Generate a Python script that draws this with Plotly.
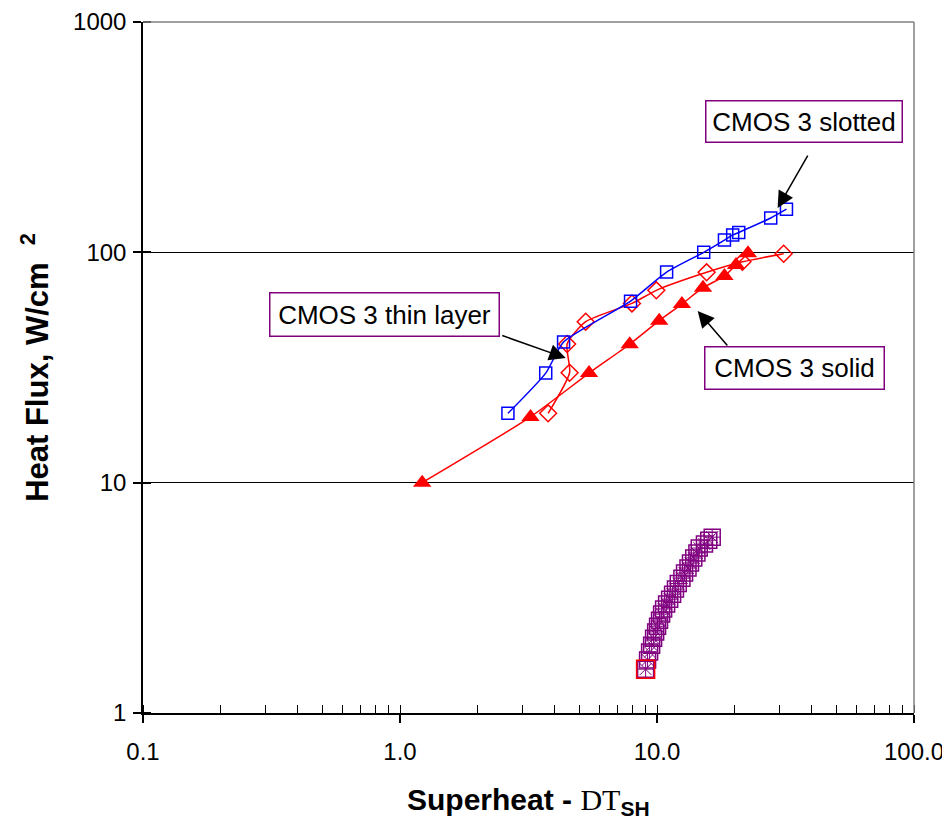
import plotly.graph_objects as go

# ---- data ----
slot_x = [2.63, 3.69, 4.33, 7.89, 10.9, 15.2, 18.3, 19.7, 20.8, 27.7, 31.9]
slot_y = [20.0, 29.9, 40.8, 61.4, 82.1, 100, 113, 119, 122, 141, 154]

thin_x = [3.77, 4.57, 4.47, 5.28, 7.99, 9.94, 15.6, 21.5, 31.1]
thin_y = [20.0, 30.0, 40.0, 50.0, 60.0, 68.4, 81.9, 91.0, 98.6]

solid_x = [1.22, 3.22, 5.44, 7.83, 10.2, 12.5, 15.1, 18.3, 20.3, 22.6]
solid_y = [10.0, 19.3, 29.9, 39.9, 50.5, 59.6, 70.2, 78.9, 88.1, 99.0]

plain_x = [9.03, 9.19, 9.36, 9.53, 9.70, 9.88, 10.05, 10.23, 10.42, 10.61, 10.90, 11.2, 11.5,
           11.8, 12.1, 12.5, 12.8, 13.2, 13.5, 13.9, 14.3, 14.6, 15.3, 15.9, 16.4]
plain_y = [1.55, 1.70, 1.84, 1.97, 2.11, 2.25, 2.38, 2.53, 2.69, 2.83, 2.97, 3.12, 3.28,
           3.45, 3.65, 3.85, 4.05, 4.26, 4.48, 4.71, 4.95, 5.20, 5.41, 5.63, 5.80]

x_tickvals = [0.1, 1, 10, 100]
x_ticktext = ["0.1", "1.0", "10.0", "100.0"]
y_tickvals = [1, 10, 100, 1000]
y_ticktext = ["1", "10", "100", "1000"]
x_minor = [m * d for d in (0.1, 1, 10) for m in range(1, 10)] + [100]

FONT = "Arial, Liberation Sans, sans-serif"
PURPLE = "#800080"

fig = go.Figure()

fig.add_trace(go.Scatter(x=plain_x, y=plain_y, mode="markers",
                         marker=dict(symbol="square-open", size=16, color=PURPLE, line=dict(width=1.5))))
fig.add_trace(go.Scatter(x=plain_x, y=plain_y, mode="markers",
                         marker=dict(symbol="asterisk-open", size=14, color=PURPLE, line=dict(width=1))))
fig.add_trace(go.Scatter(x=plain_x[:1], y=plain_y[:1], mode="markers",
                         marker=dict(symbol="square-open", size=18, color="red", line=dict(width=1.5))))

fig.add_trace(go.Scatter(x=solid_x, y=solid_y, mode="lines+markers",
                         line=dict(color="red", width=1.5, shape="spline", smoothing=0.6),
                         marker=dict(symbol="triangle-up", size=16, color="red")))
fig.add_trace(go.Scatter(x=thin_x, y=thin_y, mode="lines+markers",
                         line=dict(color="red", width=1.5, shape="spline", smoothing=0.6),
                         marker=dict(symbol="diamond-open", size=13, color="red", line=dict(width=1.5))))
fig.add_trace(go.Scatter(x=slot_x, y=slot_y, mode="lines+markers",
                         line=dict(color="blue", width=1.5, shape="spline", smoothing=0.6),
                         marker=dict(symbol="square-open", size=12, color="blue", line=dict(width=1.5))))

fig.update_xaxes(type="log", range=[-1, 2], tickvals=x_tickvals, ticktext=x_ticktext,
                 ticks="outside", ticklen=8, tickwidth=1.5, tickcolor="black", automargin=False,
                 showline=True, linecolor="black", linewidth=1.5, showgrid=False, zeroline=False,
                 tickfont=dict(family=FONT, size=24, color="black"), ticklabelstandoff=8,
                 minor=dict(tickvals=x_minor, ticks="inside", ticklen=8, tickwidth=1, tickcolor="black"))
fig.update_yaxes(type="log", range=[0, 3], tickvals=y_tickvals, ticktext=y_ticktext,
                 ticks="outside", ticklen=8, tickwidth=1.5, tickcolor="black", automargin=False,
                 showline=True, linecolor="black", linewidth=1.5, showgrid=True, gridcolor="black",
                 gridwidth=1.2, zeroline=False,
                 tickfont=dict(family=FONT, size=24, color="black"), ticklabelstandoff=2,
                 minor=dict(tickvals=y_tickvals, ticks="inside", ticklen=8, tickwidth=1.5, tickcolor="black"),
                 title=dict(text="<b>Heat Flux, W/cm&nbsp; </b><sup><b>2</b></sup>",
                            font=dict(family=FONT, size=31, color="black"), standoff=15))

ann = []
# arrows
for (px, py, ax, ay) in [(0.8231, 0.7308, 31, -54), (0.5483, 0.5137, -65, -23), (0.7194, 0.5818, 31, 36)]:
    ann.append(dict(x=px, y=py, xref="paper", yref="paper", ax=ax, ay=ay, text="",
                    showarrow=True, arrowhead=2, arrowsize=2.2, arrowwidth=1.5, arrowcolor="black"))
# boxes
for (txt, px, py, w, h) in [("CMOS 3 slotted", 0.8574, 0.8567, 193, 38),
                            ("CMOS 3 thin layer", 0.3137, 0.576, 226, 40),
                            ("CMOS 3 solid", 0.8451, 0.500, 176, 39)]:
    ann.append(dict(x=px, y=py, xref="paper", yref="paper", text=txt, showarrow=False,
                    width=w, height=h, bgcolor="white", bordercolor=PURPLE, borderwidth=1.5,
                    font=dict(family=FONT, size=26, color="black"), xanchor="center", yanchor="middle"))
# x-axis title
ann.append(dict(x=0.5, y=-0.098, xref="paper", yref="paper", showarrow=False,
                xanchor="center", yanchor="top",
                text="<b>Superheat - </b><span style='font-family:Liberation Serif'>DT</span><sub><b>SH</b></sub>",
                font=dict(family=FONT, size=30, color="black")))

# the page body has an 8 px margin, so the figure is sized to sit within the window
fig.update_layout(
    width=942, height=813, margin=dict(l=135, r=35.5, t=14, b=108),
    paper_bgcolor="white", plot_bgcolor="white", showlegend=False,
    annotations=ann,
    shapes=[dict(type="line", xref="paper", yref="paper", x0=0, x1=1, y0=1, y1=1,
                 line=dict(color="#808080", width=1.5)),
            dict(type="line", xref="paper", yref="paper", x0=1, x1=1, y0=0, y1=1,
                 line=dict(color="#808080", width=1.5))],
    font=dict(family=FONT),
)

fig.write_html("out.html")
